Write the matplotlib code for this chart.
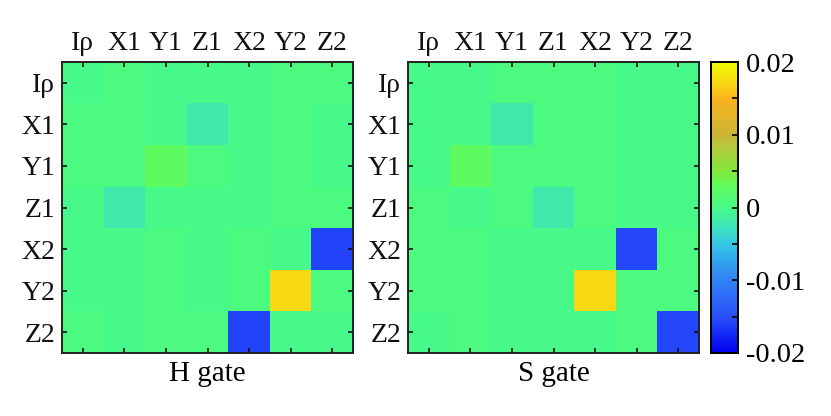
import matplotlib
matplotlib.use('Agg')
import matplotlib.pyplot as plt
from matplotlib.colors import LinearSegmentedColormap
from matplotlib.ticker import MultipleLocator
import numpy as np

plt.rcParams['font.family'] = ['Liberation Serif', 'DejaVu Serif']
plt.rcParams['axes.unicode_minus'] = False

labels = ['Iρ', 'X1', 'Y1', 'Z1', 'X2', 'Y2', 'Z2']
titles = ['H gate', 'S gate']

G = 0.0005    # slightly greener background cells
T = -0.0001   # slightly bluer background cells

h_gate = [
    [T, G, T, T, T, G, G],
    [G, G, T, -0.002, T, G, T],
    [G, G, 0.0028, G, T, G, T],
    [T, -0.002, T, T, T, G, G],
    [T, T, G, T, G, T, -0.0157],
    [T, T, G, T, G, 0.0172, G],
    [G, T, G, G, -0.0157, T, T],
]

s_gate = [
    [T, T, G, G, G, T, T],
    [T, T, -0.002, G, G, T, T],
    [T, 0.0028, G, G, G, T, T],
    [G, T, G, -0.002, G, T, T],
    [G, G, T, T, T, -0.0155, G],
    [G, G, T, T, 0.0172, G, G],
    [T, G, T, T, T, G, -0.0155],
]

# colour map
anchors = [
    (0.000, (0, 0, 240)),
    (0.124, (40, 80, 250)),
    (0.249, (50, 130, 245)),
    (0.306, (50, 160, 240)),
    (0.376, (55, 200, 230)),
    (0.434, (60, 228, 185)),
    (0.500, (72, 250, 136)),
    (0.572, (95, 252, 95)),
    (0.624, (130, 232, 60)),
    (0.688, (170, 210, 60)),
    (0.750, (205, 180, 55)),
    (0.876, (250, 180, 30)),
    (0.930, (248, 215, 20)),
    (1.000, (240, 255, 0)),
]
cmap = LinearSegmentedColormap.from_list(
    'gate', [(p, tuple(c / 255 for c in rgb)) for p, rgb in anchors])

vmin, vmax = -0.02, 0.02
W, H = 831, 416
fig = plt.figure(figsize=(W / 100, H / 100), dpi=100)

def px_axes(x0, y0, x1, y1):
    return fig.add_axes([x0 / W, 1 - y1 / H, (x1 - x0) / W, (y1 - y0) / H])

axes = [px_axes(62, 62, 353, 353), px_axes(408, 62, 699, 353)]
cax = px_axes(711, 62, 738, 353)

for ax, data, title in zip(axes, [h_gate, s_gate], titles):
    im = ax.imshow(np.array(data), cmap=cmap, vmin=vmin, vmax=vmax,
                   aspect='auto', interpolation='nearest')
    ax.set_xticks(range(len(labels)))
    ax.set_yticks(range(len(labels)))
    ax.set_xticklabels(labels)
    ax.set_yticklabels(labels)
    ax.tick_params(direction='in', top=True, bottom=True, left=True, right=True,
                   labeltop=True, labelbottom=False, length=3.5, width=1.2,
                   labelsize=20, colors='#111111')
    ax.tick_params(axis='x', pad=4)
    ax.tick_params(axis='y', pad=5)
    ax.set_xlabel(title, fontsize=21, labelpad=6)
    for sp in ax.spines.values():
        sp.set_linewidth(1.4)
        sp.set_color('#222222')

cb = fig.colorbar(im, cax=cax)
cb.set_ticks([-0.02, -0.01, 0, 0.01, 0.02])
cb.set_ticklabels(['-0.02', '-0.01', '0', '0.01', '0.02'])
cb.ax.yaxis.set_minor_locator(MultipleLocator(0.005))
cb.ax.tick_params(which='both', direction='in', length=4, width=1.2,
                  labelsize=20.5, pad=6)
cb.outline.set_linewidth(1.4)

fig.savefig('out.png', dpi=100)
